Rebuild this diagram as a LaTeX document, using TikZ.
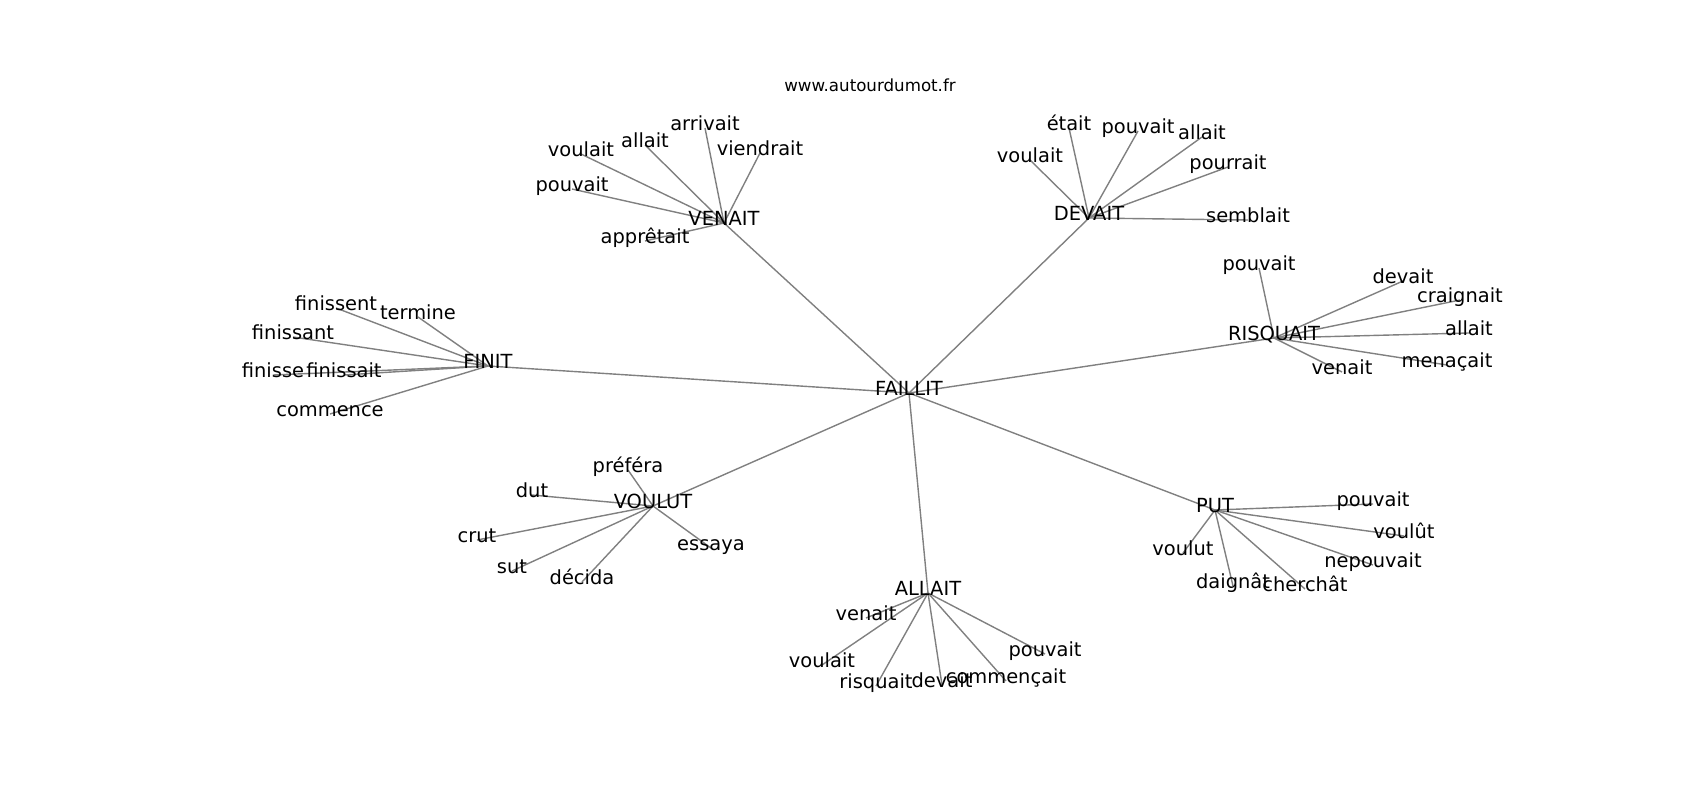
\documentclass[tikz,border=0pt]{standalone}
\usepackage{fontspec}
\setmainfont{DejaVu Sans}
\usetikzlibrary{backgrounds}
\begin{document}
\begin{tikzpicture}[x=1pt,y=-1pt,
    word/.style={inner sep=0pt,text height=0.76em,text depth=0.24em,font=\fontsize{19.44}{23}\selectfont},
    head/.style={inner sep=0pt,font=\fontsize{16.67}{20}\selectfont},
    link/.style={draw=gray,line width=1.4pt}]
    \useasboundingbox (0,-3) rectangle (1700,797);
    \path (870,82) node[head] (title) {www.autourdumot.fr};
    % centre
    \path (909,390) node[word] (fa) {FAILLIT};
    % VENAIT
    \path (724,220) node[word] (ve) {VENAIT};
    \path (581,151) node[word] (ve1) {voulait};
    \path (645,142) node[word] (ve2) {allait};
    \path (705,125) node[word] (ve3) {arrivait};
    \path (760,150) node[word] (ve4) {viendrait};
    \path (572,186) node[word] (ve5) {pouvait};
    \path (645,238) node[word] (ve6) {apprêtait};
    % DEVAIT
    \path (1089,215) node[word] (de) {DEVAIT};
    \path (1069,125) node[word] (de1) {était};
    \path (1138,128) node[word] (de2) {pouvait};
    \path (1030,157) node[word] (de3) {voulait};
    \path (1202,134) node[word] (de4) {allait};
    \path (1228,164) node[word] (de5) {pourrait};
    \path (1248,217) node[word] (de6) {semblait};
    % RISQUAIT
    \path (1274,335) node[word] (ri) {RISQUAIT};
    \path (1259,265) node[word] (ri1) {pouvait};
    \path (1403,278) node[word] (ri2) {devait};
    \path (1460,297) node[word] (ri3) {craignait};
    \path (1469,330) node[word] (ri4) {allait};
    \path (1447,362) node[word] (ri5) {menaçait};
    \path (1342,369) node[word] (ri6) {venait};
    % FINIT
    \path (488,363) node[word] (fi) {FINIT};
    \path (336,305) node[word] (fi1) {finissent};
    \path (418,314) node[word] (fi2) {termine};
    \path (293,334) node[word] (fi3) {finissant};
    \path (273,372) node[word] (fi4) {finisse};
    \path (344,372) node[word] (fi5) {finissait};
    \path (330,411) node[word] (fi6) {commence};
    % VOULUT
    \path (653,503) node[word] (vo) {VOULUT};
    \path (628,467) node[word] (vo1) {préféra};
    \path (532,492) node[word] (vo2) {dut};
    \path (477,537) node[word] (vo3) {crut};
    \path (512,568) node[word] (vo4) {sut};
    \path (582,579) node[word] (vo5) {décida};
    \path (711,545) node[word] (vo6) {essaya};
    % ALLAIT
    \path (928,590) node[word] (al) {ALLAIT};
    \path (866,615) node[word] (al1) {venait};
    \path (822,662) node[word] (al2) {voulait};
    \path (876,683) node[word] (al3) {risquait};
    \path (942,682) node[word] (al4) {devait};
    \path (1006,678) node[word] (al5) {commençait};
    \path (1045,651) node[word] (al6) {pouvait};
    % PUT
    \path (1215,507) node[word] (pu) {PUT};
    \path (1373,501) node[word] (pu1) {pouvait};
    \path (1404,533) node[word] (pu2) {voulût};
    \path (1373,562) node[word] (pu3) {nepouvait};
    \path (1183,550) node[word] (pu4) {voulut};
    \path (1233,583) node[word] (pu5) {daignât};
    \path (1305,586) node[word] (pu6) {cherchât};
    % links
    \begin{pgfonlayer}{background}
        \foreach \h in {ve,de,ri,fi,vo,al,pu} {
            \draw[link] (fa.center) -- (\h.center);
            \foreach \i in {1,...,6}
                \draw[link] (\h.center) -- (\h\i.center);
        }
    \end{pgfonlayer}
\end{tikzpicture}
\end{document}
